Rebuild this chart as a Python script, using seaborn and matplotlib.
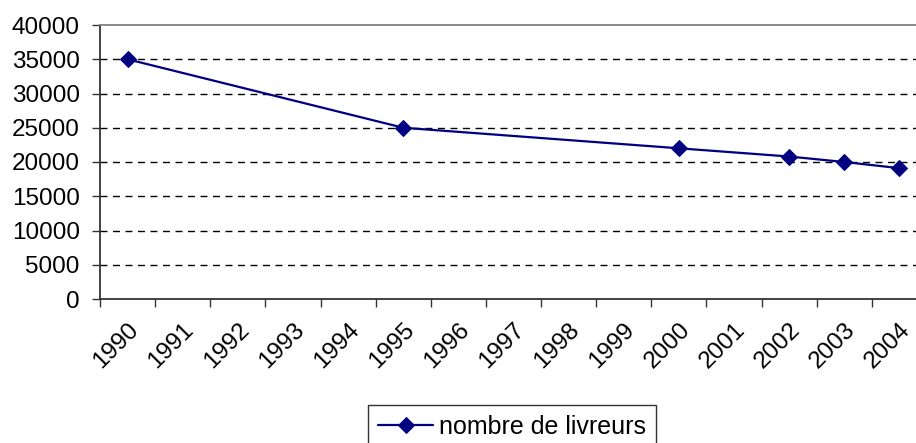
import matplotlib
matplotlib.use('Agg')
import matplotlib.pyplot as plt
import matplotlib.transforms as mtransforms
import seaborn as sns
import pandas as pd

# categories on the x axis
categories = [str(y) for y in range(1990, 2005)]

# data points (only some years have values)
years = [1990, 1995, 2000, 2002, 2003, 2004]
livreurs = [35000, 25000, 22000, 20800, 20000, 19100]

y_ticks = list(range(0, 40001, 5000))

sns.set_style('white', {'text.color': 'black'})
plt.rcParams['font.family'] = ['Liberation Sans', 'DejaVu Sans']

df = pd.DataFrame({'pos': [categories.index(str(y)) + 0.5 for y in years],
                   'nombre de livreurs': livreurs})

fig = plt.figure(figsize=(9.16, 4.43), dpi=100)
# plot area runs past the right edge of the picture, as in the reference
ax = fig.add_axes([100 / 916, (443 - 299) / 443, 827 / 916, 274 / 443])

sns.lineplot(data=df, x='pos', y='nombre de livreurs', ax=ax, color='#000080',
             linewidth=1.6, marker='D', markersize=8, markeredgecolor='#000080',
             label='nombre de livreurs', legend=False)

ax.set_xlim(0, len(categories))
ax.set_ylim(0, 40000)
ax.set_yticks(y_ticks)
ax.set_yticklabels([str(v) for v in y_ticks], fontsize=17.5)

# tick marks between categories, labels at category centres
ax.set_xticks(range(len(categories) + 1))
ax.set_xticklabels([])
ax.set_xticks([i + 0.5 for i in range(len(categories))], minor=True)
ax.set_xticklabels(categories, minor=True, rotation=45, ha='right',
                   rotation_mode='anchor', fontsize=17.5)
shift = mtransforms.ScaledTranslation(-18 / 100, 0, fig.dpi_scale_trans)
for lab in ax.get_xticklabels(minor=True):
    lab.set_transform(lab.get_transform() + shift)

ax.tick_params(axis='x', which='major', direction='out', length=6, width=1,
               color='#333333', bottom=True)
ax.tick_params(axis='x', which='minor', length=0, pad=14, labelcolor='black')
ax.tick_params(axis='y', direction='out', length=6, width=1, color='#333333',
               left=True, pad=8.5, labelcolor='black')

for v in y_ticks[1:-1]:
    ax.axhline(v, color='black', linewidth=1, dashes=(5, 4), zorder=0)

for side in ['left', 'bottom']:
    ax.spines[side].set_color('#333333')
    ax.spines[side].set_linewidth(1.3)
ax.spines['top'].set_color('#808080')
ax.spines['top'].set_linewidth(1.3)
ax.spines['right'].set_visible(False)
ax.set_xlabel('')
ax.set_ylabel('')

handles, labels = ax.get_legend_handles_labels()
leg = fig.legend(handles, labels, loc='upper center',
                 bbox_to_anchor=(512 / 916, 1 - 405 / 443), fontsize=18,
                 frameon=True, fancybox=False, handlelength=2.2,
                 handletextpad=0.24, borderpad=0.4, borderaxespad=0)
leg.get_frame().set_edgecolor('black')
leg.get_frame().set_linewidth(1)
for t in leg.get_texts():
    t.set_color('black')

fig.savefig('out.png', dpi=100)
